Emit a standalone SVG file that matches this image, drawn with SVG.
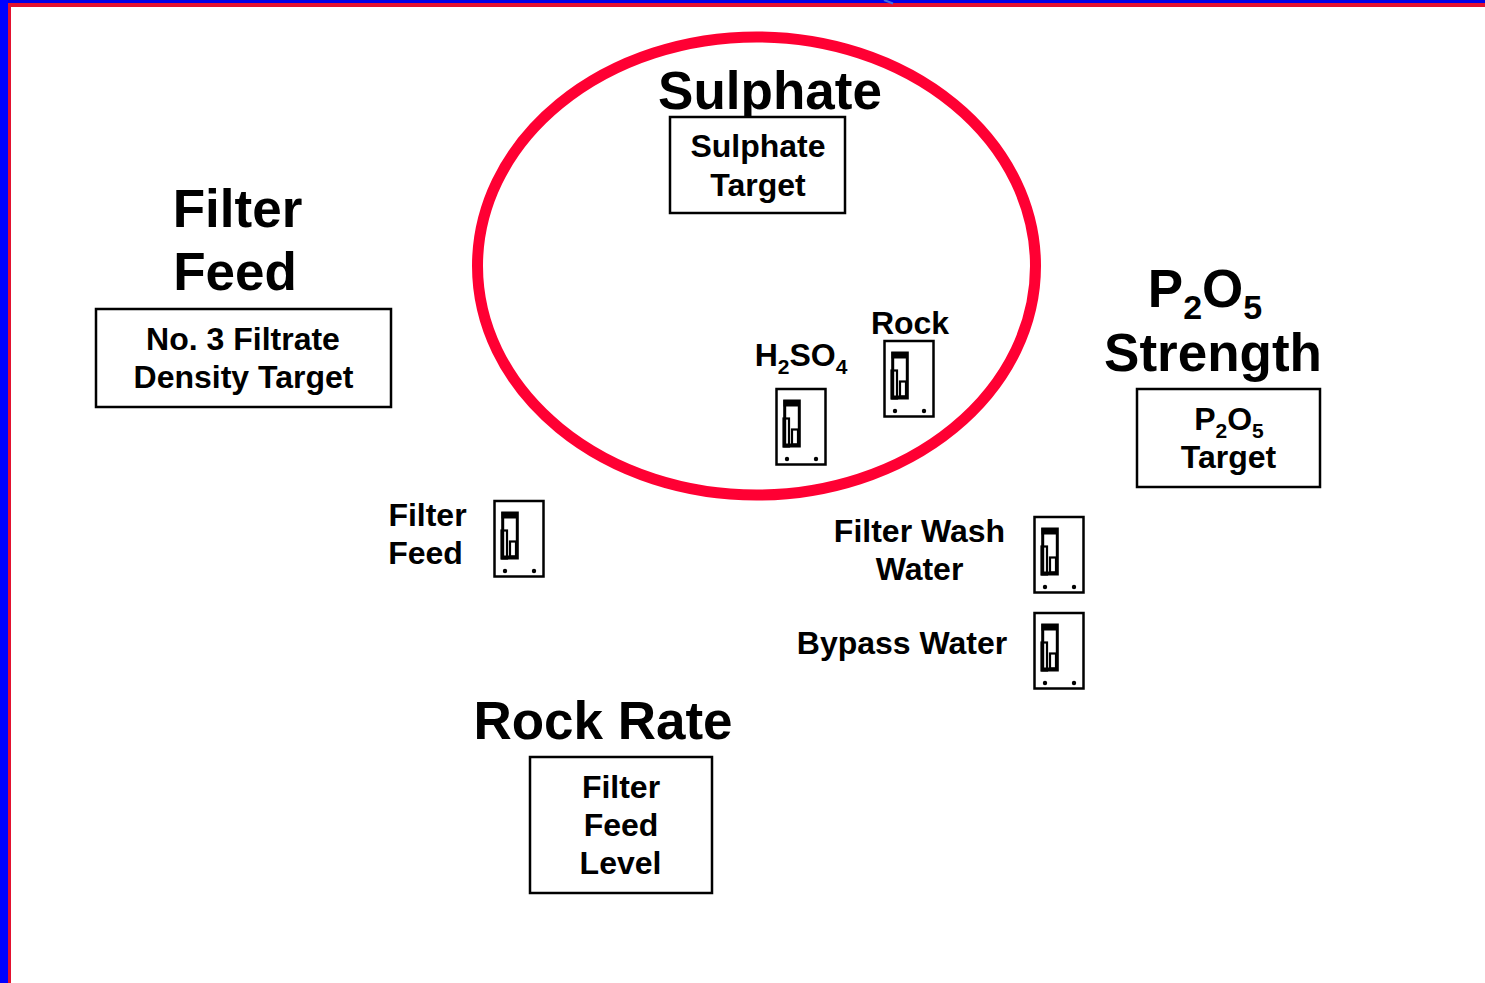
<svg xmlns="http://www.w3.org/2000/svg" width="1485" height="983" viewBox="0 0 1485 983">
<style>
text{font-family:"Liberation Sans",Arial,sans-serif;font-weight:700;fill:#000;text-anchor:middle}
.big{font-size:53px}
.mid{font-size:32px}
.lab{font-size:32px}
.box{fill:#fff;stroke:#000;stroke-width:2.5}
.ic{fill:none;stroke:#000;stroke-width:2.200}
</style>
<defs>
<symbol id="switch" width="52" height="78" viewBox="0 0 52 78" overflow="visible">
<rect x="1" y="1" width="49" height="75.500" fill="#fff" stroke="#000" stroke-width="2.500"/>
<rect x="9.200" y="13" width="14.600" height="45" class="ic" style="stroke-width:3"/>
<rect x="8" y="12" width="16.500" height="6.500" fill="#000"/>
<rect x="8" y="30.500" width="5.500" height="28" class="ic"/>
<rect x="16.500" y="41.500" width="6" height="15" class="ic"/>
<rect x="9" y="55.500" width="15" height="3.500" fill="#000"/>
<circle cx="11.500" cy="71" r="2.200" fill="#000"/>
<circle cx="40.500" cy="71" r="2.200" fill="#000"/>
</symbol>
</defs>
<rect width="1485" height="983" fill="#fff"/>
<g id="frame">
<rect x="8" y="3" width="1477" height="4" fill="#e4112f"/>
<rect x="8" y="3" width="3" height="980" fill="#e4112f"/>
<rect x="0" y="0" width="1485" height="3" fill="#0000e6"/>
<rect x="0" y="0" width="8" height="983" fill="#0000ff"/>
<path d="M884 0L893 3.500" stroke="#3b6be8" stroke-width="2"/>
</g>
<g id="sulphate-ring"><ellipse cx="756.500" cy="266" rx="279" ry="229" fill="none" stroke="#ff0033" stroke-width="11"/></g>
<g id="connectors"></g>
<g id="sulphate-title"><text class="big" x="770" y="109">Sulphate</text></g>
<g id="sulphate-target">
<rect class="box" x="670" y="117" width="175" height="96"/>
<text class="mid" x="758" y="157">Sulphate</text>
<text class="mid" x="758" y="196">Target</text>
</g>
<g id="filter-feed-title">
<text class="big" x="237.500" y="226.500">Filter</text>
<text class="big" x="235" y="290">Feed</text>
</g>
<g id="density-target">
<rect class="box" x="96" y="309" width="295" height="98"/>
<text class="mid" x="243" y="350">No. 3 Filtrate</text>
<text class="mid" x="243.500" y="388">Density Target</text>
</g>
<g id="p2o5-title">
<text class="big" x="1205" y="306.500">P<tspan font-size="34" dy="12">2</tspan><tspan dy="-12">O</tspan><tspan font-size="34" dy="12">5</tspan></text>
<text class="big" x="1213" y="370.500">Strength</text>
</g>
<g id="p2o5-target">
<rect class="box" x="1137" y="389" width="183" height="98"/>
<text class="mid" x="1229" y="430">P<tspan font-size="21" dy="8">2</tspan><tspan dy="-8">O</tspan><tspan font-size="21" dy="8">5</tspan></text>
<text class="mid" x="1228.500" y="468">Target</text>
</g>
<g id="rock-rate-title"><text class="big" x="603" y="738.500">Rock Rate</text></g>
<g id="level-target">
<rect class="box" x="530" y="757" width="182" height="136"/>
<text class="mid" x="621" y="798">Filter</text>
<text class="mid" x="621" y="836">Feed</text>
<text class="mid" x="620.500" y="874">Level</text>
</g>
<g id="rock-switch">
<text class="lab" x="910" y="334">Rock</text>
<use href="#switch" x="883.500" y="340"/>
</g>
<g id="h2so4-switch">
<text class="lab" x="801" y="366">H<tspan font-size="21" dy="8">2</tspan><tspan dy="-8">SO</tspan><tspan font-size="21" dy="8">4</tspan></text>
<use href="#switch" x="775.500" y="388"/>
</g>
<g id="filter-feed-switch">
<text class="lab" x="427.500" y="526">Filter</text>
<text class="lab" x="425.500" y="564">Feed</text>
<use href="#switch" x="493.500" y="500"/>
</g>
<g id="wash-water-switch">
<text class="lab" x="919.500" y="542">Filter Wash</text>
<text class="lab" x="919.500" y="580">Water</text>
<use href="#switch" x="1033.500" y="516"/>
</g>
<g id="bypass-water-switch">
<text class="lab" x="902" y="654">Bypass Water</text>
<use href="#switch" x="1033.500" y="612"/>
</g>
</svg>
